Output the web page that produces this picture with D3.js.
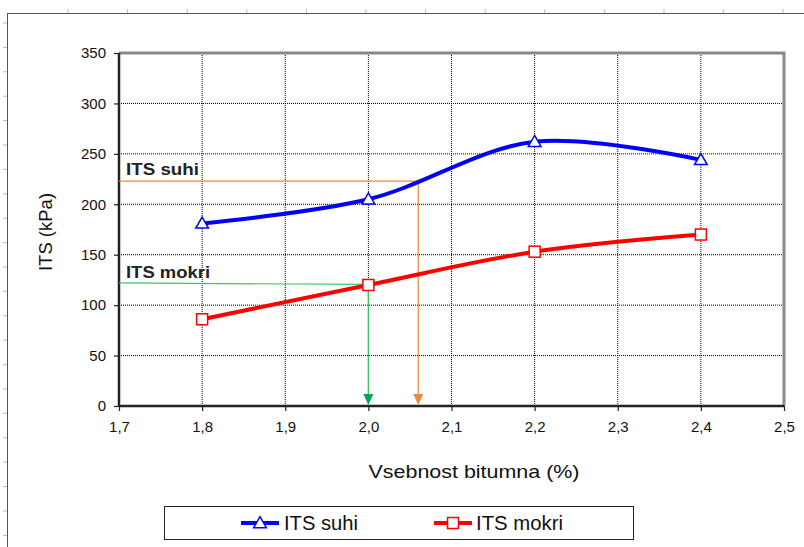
<!DOCTYPE html>
<html><head><meta charset="utf-8">
<script src="https://cdn.jsdelivr.net/npm/d3@7"></script>
<style>body{margin:0;background:#fff;}svg{display:block;font-family:"Liberation Sans",Arial,sans-serif;}</style>
</head><body>
<svg id="c" width="804" height="547"></svg>
<script>
const xValues = [1.8, 2.0, 2.2, 2.4];
const suhi = [181, 205, 262, 244];
const mokri = [86, 120, 153, 170];
const xTicks = [1.7, 1.8, 1.9, 2.0, 2.1, 2.2, 2.3, 2.4, 2.5];
const yTicks = [0, 50, 100, 150, 200, 250, 300, 350];
const refSuhi = {y: 223, x: 2.06};
const refMokri = {y: 122, x: 2.0};

const svg = d3.select("#c");
const x = d3.scaleLinear().domain([1.7, 2.5]).range([119, 784]);
const y = d3.scaleLinear().domain([0, 350]).range([406, 53]);

// outer frame & ruler ticks
svg.append("line").attr("x1",7).attr("x2",804).attr("y1",13.5).attr("y2",13.5).attr("stroke","#555").attr("stroke-width",1);
svg.append("line").attr("x1",7.5).attr("x2",7.5).attr("y1",13).attr("y2",547).attr("stroke","#555").attr("stroke-width",1);
for (let i=0;i<13;i++){ const tx=68+i*59.6; svg.append("line").attr("x1",tx).attr("x2",tx).attr("y1",9).attr("y2",13).attr("stroke","#bbb"); }
for (let i=0;i<22;i++){ const ty=23+i*24.4; svg.append("line").attr("x1",3).attr("x2",7).attr("y1",ty).attr("y2",ty).attr("stroke","#bbb"); }

// grid
const g = svg.append("g");
g.selectAll(".vg").data(xTicks.slice(1,-1)).join("line")
  .attr("x1",d=>x(d)).attr("x2",d=>x(d)).attr("y1",y(350)).attr("y2",y(0))
  .attr("stroke","#000").attr("stroke-width",1).attr("stroke-dasharray","1,1");
g.selectAll(".hg").data(yTicks.slice(1,-1)).join("line")
  .attr("x1",x(1.7)).attr("x2",x(2.5)).attr("y1",d=>y(d)).attr("y2",d=>y(d))
  .attr("stroke","#000").attr("stroke-width",1).attr("stroke-dasharray","1,1");

// plot border (top & right gray)
svg.append("path").attr("d",`M${x(1.7)},${y(350)}H${x(2.5)}V${y(0)}`).attr("fill","none").attr("stroke","#888").attr("stroke-width",3);

// axes
const xAxis = d3.axisBottom(x).tickValues(xTicks).tickSize(5).tickPadding(10).tickFormat(d=>d3.format(".1f")(d).replace(".",","));
const yAxis = d3.axisLeft(y).tickValues(yTicks).tickSize(5).tickPadding(8);
const gx = svg.append("g").attr("transform",`translate(0,${y(0)})`).call(xAxis);
const gy = svg.append("g").attr("transform",`translate(${x(1.7)},0)`).call(yAxis);
[gx,gy].forEach(a=>{
  a.select(".domain").attr("stroke","#222").attr("stroke-width",2.5);
  a.selectAll(".tick line").attr("stroke","#222").attr("stroke-width",1.2);
  a.selectAll("text").attr("font-family","Liberation Sans, Arial, sans-serif").attr("font-size",15).attr("fill","#111");
});
gx.select(".domain").attr("d",`M${x(1.7)},0H${x(2.5)}`);
gy.select(".domain").attr("d",`M0,${y(0)}V${y(350)}`);

// reference lines
const orange="#F0883C", green="#3CC46A", greenDark="#00A850";
svg.append("path").attr("d",`M${x(1.7)},${y(refSuhi.y)}H${x(refSuhi.x)}V${y(0)-12}`).attr("fill","none").attr("stroke",orange).attr("stroke-width",1.2);
svg.append("path").attr("d",`M${x(refSuhi.x)-5},${y(0)-12}h10l-5,11z`).attr("fill",orange);
svg.append("path").attr("d",`M${x(1.7)},${y(refMokri.y)}L${x(refMokri.x)},${y(refMokri.y)+1.5}V${y(0)-12}`).attr("fill","none").attr("stroke",green).attr("stroke-width",1.2);
svg.append("path").attr("d",`M${x(refMokri.x)-5},${y(0)-12}h10l-5,11z`).attr("fill",greenDark);

// series
const line = d3.line().x(d=>x(d[0])).y(d=>y(d[1])).curve(d3.curveCatmullRom.alpha(0.5));
const sData = xValues.map((v,i)=>[v,suhi[i]]);
const mData = xValues.map((v,i)=>[v,mokri[i]]);
svg.append("path").datum(sData).attr("d",line).attr("fill","none").attr("stroke","#0000FF").attr("stroke-width",4);
svg.append("path").datum(mData).attr("d",d3.line().x(d=>x(d[0])).y(d=>y(d[1])).curve(d3.curveMonotoneX)).attr("fill","none").attr("stroke","#FF0000").attr("stroke-width",4);

const tri = d3.symbol().type(d3.symbolTriangle).size(70);
svg.selectAll(".tri").data(sData).join("path").attr("d",tri)
  .attr("transform",d=>`translate(${x(d[0])},${y(d[1])+1})`).attr("fill","#fff").attr("stroke","#0000FF").attr("stroke-width",1.5);
svg.selectAll(".sq").data(mData).join("rect")
  .attr("x",d=>x(d[0])-5.5).attr("y",d=>y(d[1])-5.5).attr("width",11).attr("height",11)
  .attr("fill","#fff").attr("stroke","#FF0000").attr("stroke-width",1.5);

// labels
svg.append("text").attr("x",126).attr("y",175).attr("font-size",16.5).attr("font-weight","bold").attr("fill","#222")
  .attr("textLength",73).attr("lengthAdjust","spacingAndGlyphs").text("ITS suhi");
svg.append("text").attr("x",126).attr("y",278).attr("font-size",16.5).attr("font-weight","bold").attr("fill","#222")
  .attr("textLength",84).attr("lengthAdjust","spacingAndGlyphs").text("ITS mokri");

svg.append("text").attr("transform","translate(52,232) rotate(-90)").attr("text-anchor","middle").attr("font-size",18.5).attr("fill","#111").text("ITS (kPa)");
svg.append("text").attr("x",474).attr("y",478).attr("text-anchor","middle").attr("font-size",19).attr("fill","#111")
  .attr("textLength",211).attr("lengthAdjust","spacingAndGlyphs").text("Vsebnost bitumna (%)");

// legend
svg.append("rect").attr("x",164.5).attr("y",506.5).attr("width",469).attr("height",33).attr("fill","#fff").attr("stroke","#222").attr("stroke-width",1);
const ly=523;
svg.append("line").attr("x1",241).attr("x2",279).attr("y1",ly).attr("y2",ly).attr("stroke","#0000FF").attr("stroke-width",4);
svg.append("path").attr("d",tri).attr("transform",`translate(260,${ly+1})`).attr("fill","#fff").attr("stroke","#0000FF").attr("stroke-width",1.5);
svg.append("text").attr("x",284).attr("y",530).attr("font-size",19.5).attr("fill","#111").attr("textLength",74).attr("lengthAdjust","spacingAndGlyphs").text("ITS suhi");
svg.append("line").attr("x1",434).attr("x2",472).attr("y1",ly).attr("y2",ly).attr("stroke","#FF0000").attr("stroke-width",4);
svg.append("rect").attr("x",447.5).attr("y",ly-5.5).attr("width",11).attr("height",11).attr("fill","#fff").attr("stroke","#FF0000").attr("stroke-width",1.5);
svg.append("text").attr("x",476).attr("y",530).attr("font-size",19.5).attr("fill","#111").attr("textLength",87).attr("lengthAdjust","spacingAndGlyphs").text("ITS mokri");
</script>
</body></html>
